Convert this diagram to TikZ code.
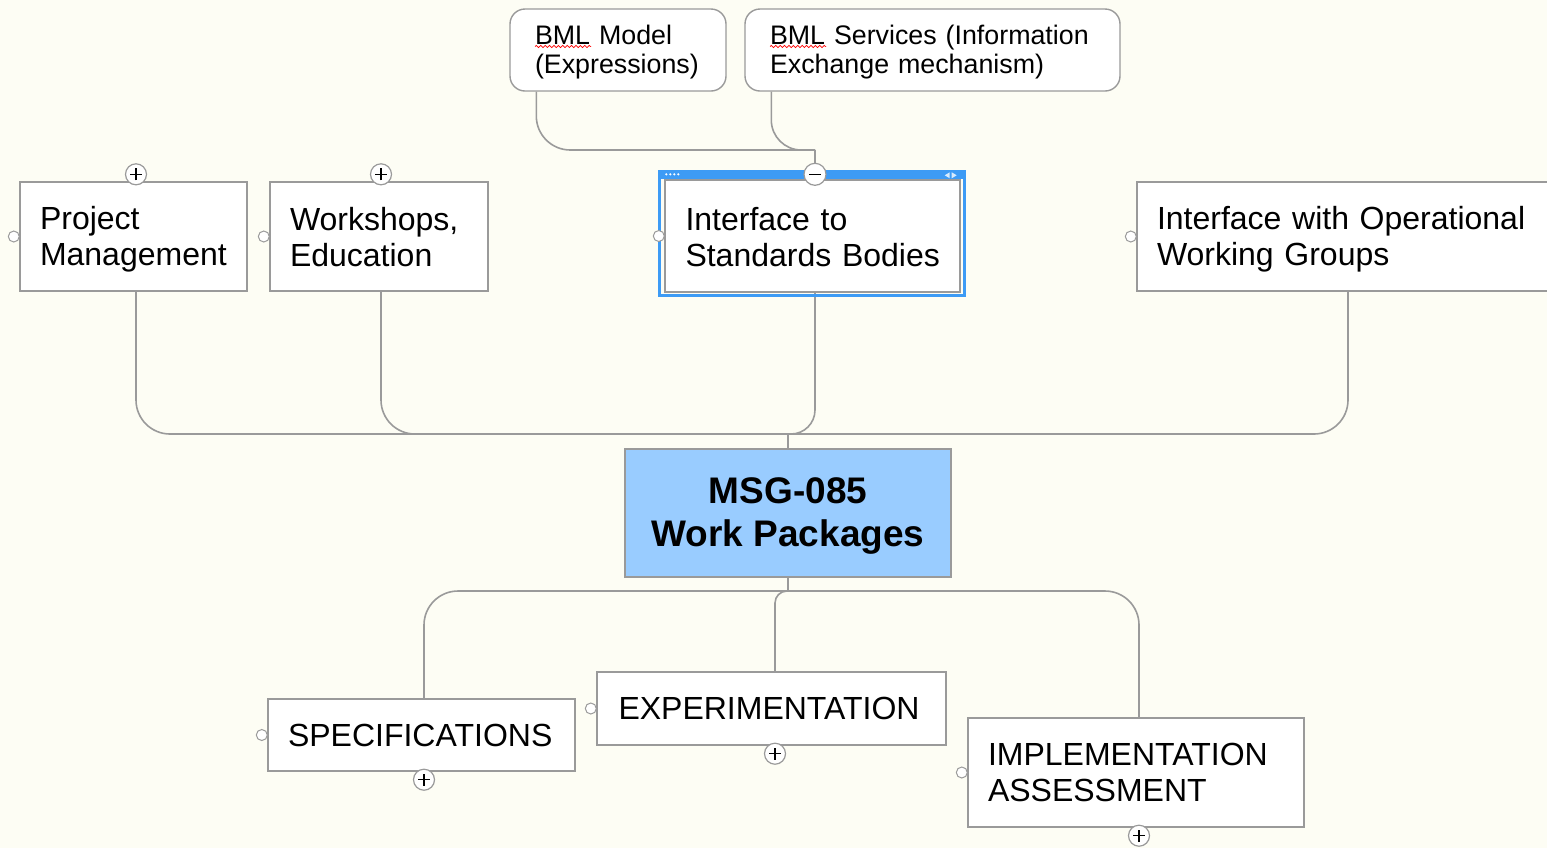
\documentclass[tikz,border=0pt]{standalone}
\usepackage{fontspec}
\setmainfont{Liberation Sans}
\usetikzlibrary{decorations.pathmorphing,calc}
\definecolor{bg}{HTML}{FDFDF4}
\definecolor{edge}{HTML}{9A9A9A}
\definecolor{mainfill}{HTML}{99CCFF}
\definecolor{selblue}{HTML}{3D9BF5}
\newcommand\toppad[1]{\rule{0pt}{#1}}
\begin{document}
\begin{tikzpicture}[x=0.5pt,y=-0.5pt,
  topic/.style={draw=edge, fill=white, line width=0.7pt, align=left, inner xsep=0pt, inner ysep=0pt,
    font=\fontsize{16}{18}\selectfont},
  subtopic/.style={topic, rounded corners=7.5pt, font=\fontsize{13.4}{14.5}\selectfont},
  conn/.style={draw=edge, line width=0.8pt},
  plusc/.style={circle, draw=edge, fill=white, line width=0.6pt, minimum size=10.5pt, inner sep=0pt,
    path picture={\draw[black,line width=0.55pt] (path picture bounding box.center) ++(-3pt,0) -- ++(6pt,0);
                  \draw[black,line width=0.55pt] (path picture bounding box.center) ++(0,-3pt) -- ++(0,6pt);}},
  minusc/.style={circle, draw=edge, fill=white, line width=0.6pt, minimum size=11pt, inner sep=0pt,
    path picture={\draw[black,line width=0.8pt] (path picture bounding box.center) ++(-3pt,0) -- ++(6pt,0);}},
  port/.style={circle, draw=edge, fill=white, line width=0.5pt, minimum size=5.5pt, inner sep=0pt},
  wavy/.style={red, line width=0.35pt, decorate, decoration={snake, amplitude=0.55pt, segment length=2.2pt}}
]
\fill[bg] (0,0) rectangle (1547,848);
\useasboundingbox (0,0) rectangle (1547,848);

% sub topics (top)
\node[subtopic, minimum width=108pt, minimum height=41pt, text width=83pt] (bmlm) at (618,50)
  {\toppad{11.8pt}\mbox{BML Model}\\\mbox{(Expressions)}};
\node[subtopic, minimum width=187.5pt, minimum height=41pt, text width=162.5pt] (bmls) at (932.5,50)
  {\toppad{11.8pt}\mbox{BML Services (Information}\\\mbox{Exchange mechanism)}};
\draw[wavy] (535,46.5) -- (591,46.5);
\draw[wavy] (770,46.5) -- (826,46.5);

% main topics
\node[topic, minimum width=113.5pt, minimum height=54.5pt, text width=93.5pt] (pm) at (133.5,236.5)
  {\toppad{14.5pt}\mbox{Project}\\\mbox{Management}};
\node[topic, minimum width=109pt, minimum height=54.5pt, text width=89pt] (ws) at (379,236.5)
  {\toppad{12.5pt}\mbox{Workshops,}\\\mbox{Education}};
\node[topic, minimum width=147.5pt, minimum height=56pt, text width=127pt] (isb) at (812.5,236)
  {\toppad{12.5pt}\mbox{Interface to}\\\mbox{Standards Bodies}};
\node[topic, minimum width=211pt, minimum height=54.5pt, text width=191pt] (iow) at (1348,236.5)
  {\toppad{14.5pt}\mbox{Interface with Operational}\\\mbox{Working Groups}};

\node[draw=edge, fill=mainfill, line width=0.7pt, minimum width=163pt, minimum height=64pt, align=center,
  inner sep=0pt, font=\fontsize{18.5}{21.5}\selectfont\bfseries] (main) at (788,513)
  {\toppad{16.3pt}MSG-085\\Work Packages};

\node[topic, minimum width=153.5pt, minimum height=36pt, text width=133.5pt] (spec) at (421.5,735)
  {\mbox{SPECIFICATIONS}};
\node[topic, minimum width=174.5pt, minimum height=36.5pt, text width=153pt] (exp) at (771.5,708.5)
  {\mbox{EXPERIMENTATION}};
\node[topic, minimum width=168pt, minimum height=54.5pt, text width=148pt] (impl) at (1136,772.5)
  {\toppad{11.5pt}\mbox{IMPLEMENTATION}\\\mbox{ASSESSMENT}};

% hubs
\coordinate (hubT) at (788,434);
\coordinate (hubB) at (788,591);
\coordinate (join) at (815,150);

% connectors: upper
\draw[conn, rounded corners=17pt] ([xshift=1.25pt]pm.south) |- (hubT);
\draw[conn, rounded corners=17pt] ([xshift=1pt]ws.south) |- (hubT);
\draw[conn, rounded corners=12pt] ([xshift=1.25pt]isb.south) |- (hubT);
\draw[conn, rounded corners=17pt] (iow.south) |- (hubT);
\draw[conn] (hubT) -- (main.north);
% connectors: lower
\draw[conn] (main.south) -- (hubB);
\draw[conn, rounded corners=17pt] (hubB) -| ([xshift=1.25pt]spec.north);
\draw[conn, rounded corners=6pt] (hubB) -| ([xshift=1.75pt]exp.north);
\draw[conn, rounded corners=17pt] (hubB) -| ([xshift=1.5pt]impl.north);
% connectors: sub topics
\draw[conn, rounded corners=17pt] ([xshift=13.5pt]bmlm.south west) |- (join);
\draw[conn, rounded corners=15pt] ([xshift=13.5pt]bmls.south west) |- (join);

% selection frame
\fill[selblue] ($(isb.north west)+(-5,-8)$) rectangle ($(isb.north east)+(4,0)$);
\draw[selblue, line width=1.4pt] ($(isb.north west)+(-5,-8)$) rectangle ($(isb.south east)+(4,3)$);
\foreach \i in {0,1,2,3}
  \fill[white] ($(isb.north west)+(2+4*\i,-5)$) circle (0.6pt);
\fill[white!80!selblue] ($(isb.north east)+(-16,-4)$) -- ++(5,-3) -- ++(0,6) -- cycle;
\fill[white!80!selblue] ($(isb.north east)+(-4,-4)$) -- ++(-5,-3) -- ++(0,6) -- cycle;

\node[minusc] (minus) at ($([xshift=1.25pt]isb.north)+(0,-5)$) {};
\draw[conn] (join) -- (minus.north);

% expand/collapse buttons
\node[plusc] (pmplus) at ($([xshift=1.25pt]pm.north)+(0,-7)$) {};
\node[plusc] (wsplus) at ($([xshift=1pt]ws.north)+(0,-7)$) {};
\node[plusc] (specplus) at ($([xshift=1.25pt]spec.south)+(0,8)$) {};
\node[plusc] (expplus) at ($([xshift=1.75pt]exp.south)+(0,8)$) {};
\node[plusc] (implplus) at ($([xshift=1.5pt]impl.south)+(0,8)$) {};

% ports
\node[port] (pmport) at ($(pm.west)+(-5.5,0)$) {};
\node[port] (wsport) at ($(ws.west)+(-5.5,0)$) {};
\node[port] (isbport) at ($(isb.west)+(-5.5,0)$) {};
\node[port] (iowport) at ($(iow.west)+(-5.5,0)$) {};
\node[port] (specport) at ($(spec.west)+(-5.5,0)$) {};
\node[port] (expport) at ($(exp.west)+(-5.5,0)$) {};
\node[port] (implport) at ($(impl.west)+(-5.5,0)$) {};
\end{tikzpicture}
\end{document}
